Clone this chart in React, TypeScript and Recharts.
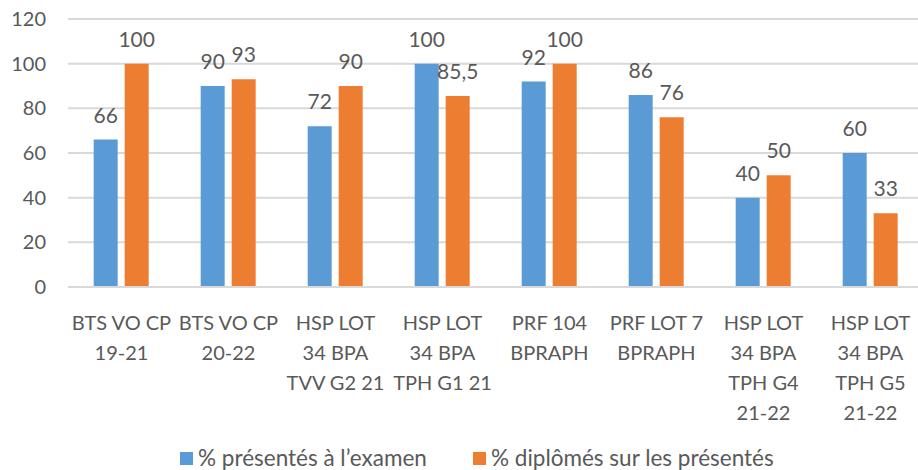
import React from "react";
import { BarChart, Bar, XAxis, YAxis, CartesianGrid, LabelList } from "recharts";

const categories = [
  "BTS VO CP\n19-21",
  "BTS VO CP\n20-22",
  "HSP LOT\n34 BPA\nTVV G2 21",
  "HSP LOT\n34 BPA\nTPH G1 21",
  "PRF 104\nBPRAPH",
  "PRF LOT 7\nBPRAPH",
  "HSP LOT\n34 BPA\nTPH G4\n21-22",
  "HSP LOT\n34 BPA\nTPH G5\n21-22",
];
const presentes = [66, 90, 72, 100, 92, 86, 40, 60];
const diplomes = [100, 93, 90, 85.5, 100, 76, 50, 33];
const yTicks = [0, 20, 40, 60, 80, 100, 120];
const seriesNames = ["% présentés à l’examen", "% diplômés sur les présentés"];

const data = categories.map((c, i) => ({ cat: c, a: presentes[i], b: diplomes[i] }));

const FONT = "Lato, 'Open Sans', sans-serif";
const TXT = "#595959";
const BLUE = "#5B9BD5";
const ORANGE = "#ED7D31";

const CatTick = (props: any) => {
  const { x, y, payload } = props;
  const lines = String(payload.value).split("\n");
  return (
    <text x={x} y={y} textAnchor="middle" fill={TXT} fontSize={20} fontFamily={FONT}>
      {lines.map((l, i) => (
        <tspan key={i} x={x} y={y + 35 + i * 30}>
          {l}
        </tspan>
      ))}
    </text>
  );
};

const fmt = (v: any) => String(v).replace(".", ",");

export default function App() {
  return (
    <div style={{ position: "absolute", left: 0, top: 0, width: 918, height: 470, background: "#fff", overflow: "hidden" }}>
      <BarChart
        width={924}
        height={470}
        data={data}
        margin={{ top: 19, right: 0, left: 0, bottom: 0 }}
        barCategoryGap="24%"
        barGap={7}
      >
        <CartesianGrid vertical={false} stroke="#d9d9d9" strokeWidth={2} />
        <XAxis
          dataKey="cat"
          interval={0}
          tick={<CatTick />}
          tickLine={false}
          axisLine={{ stroke: "#d9d9d9", strokeWidth: 2 }}
          height={183}
        />
        <YAxis
          domain={[0, 120]}
          ticks={yTicks}
          width={68}
          tickLine={false}
          axisLine={false}
          tick={{ fill: TXT, fontSize: 20, fontFamily: FONT, dx: -14 }}
          interval={0}
        />
        <Bar dataKey="a" fill={BLUE} isAnimationActive={false}>
          <LabelList dataKey="a" position="top" offset={17} fill={TXT} fontSize={21} fontFamily={FONT} formatter={fmt} />
        </Bar>
        <Bar dataKey="b" fill={ORANGE} isAnimationActive={false}>
          <LabelList dataKey="b" position="top" offset={17} fill={TXT} fontSize={21} fontFamily={FONT} formatter={fmt} />
        </Bar>
      </BarChart>
      <div
        style={{
          position: "absolute",
          top: 444,
          left: 180,
          display: "flex",
          fontFamily: FONT,
          fontSize: 22.5,
          lineHeight: "28px",
          color: TXT,
          whiteSpace: "nowrap",
        }}
      >
        {seriesNames.map((n, i) => (
          <div key={n} style={{ display: "flex", alignItems: "center", position: "absolute", left: i === 0 ? 0 : 293 }}>
            <span style={{ width: 13, height: 13, background: i === 0 ? BLUE : ORANGE, marginRight: 5, display: "inline-block" }} />
            <span>{n}</span>
          </div>
        ))}
      </div>
    </div>
  );
}
